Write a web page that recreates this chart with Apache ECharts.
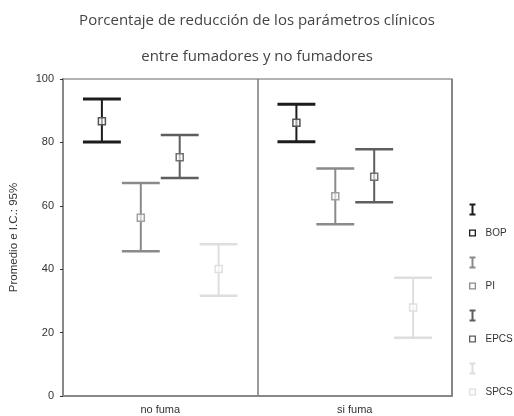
<!DOCTYPE html>
<html><head><meta charset="utf-8">
<script src="https://cdn.jsdelivr.net/npm/echarts@6/dist/echarts.min.js"></script>
<style>html,body{margin:0;padding:0;background:#fff}#c{width:514px;height:416px}</style>
</head><body><div id="c"></div>
<script>
const categories = ['no fuma', 'si fuma'];
const seriesNames = ['BOP', 'PI', 'EPCS', 'SPCS'];
const yTicks = [0, 20, 40, 60, 80, 100];
// mean, lower 95% CI, upper 95% CI per category
const bopMean = [86.7, 86.2];
const bopLow  = [80.1, 80.2];
const bopHigh = [93.7, 92.0];
const piMean  = [56.2, 63.0];
const piLow   = [45.7, 54.2];
const piHigh  = [67.2, 71.8];
const epcsMean = [75.3, 69.2];
const epcsLow  = [68.8, 61.1];
const epcsHigh = [82.3, 77.8];
const spcsMean = [40.1, 27.9];
const spcsLow  = [31.6, 18.4];
const spcsHigh = [47.9, 37.3];

const groups = [
  {mean: bopMean, low: bopLow, high: bopHigh},
  {mean: piMean, low: piLow, high: piHigh},
  {mean: epcsMean, low: epcsLow, high: epcsHigh},
  {mean: spcsMean, low: spcsLow, high: spcsHigh}
];
const colors = ['#1c1c1c', '#8a8a8a', '#5e5e5e', '#dedede'];
const markColors = ['#555555', '#a0a0a0', '#707070', '#e0e0e0'];
const widths = [3, 2.5, 2.5, 2.5];

const chart = echarts.init(document.getElementById('c'), null, {renderer: 'canvas'});

function makeRender(k) {
  return function (params, api) {
    const idx = api.value(0);
    const lo = api.value(1), hi = api.value(2), m = api.value(3);
    const band = api.size([1, 0])[0];
    const slot = band * 0.8 / 4;
    const off = (k - 1.5) * slot;
    const pLo = api.coord([idx, lo]);
    const pHi = api.coord([idx, hi]);
    const pM = api.coord([idx, m]);
    const x = pLo[0] + off;
    const hw = slot / 2 - 0.5;
    const st = {stroke: colors[k], lineWidth: widths[k]};
    return {
      type: 'group',
      children: [
        {type: 'line', shape: {x1: x, y1: pLo[1], x2: x, y2: pHi[1]}, style: {stroke: colors[k], lineWidth: 2}},
        {type: 'line', shape: {x1: x - hw, y1: pHi[1], x2: x + hw, y2: pHi[1]}, style: st},
        {type: 'line', shape: {x1: x - hw, y1: pLo[1], x2: x + hw, y2: pLo[1]}, style: st},
        {type: 'rect', shape: {x: x - 3.5, y: pM[1] - 3.5, width: 7, height: 7},
          style: {stroke: markColors[k], fill: 'rgba(255,255,255,0.6)', lineWidth: 1.5}}
      ]
    };
  };
}

const legendIcon = 'path://M2,0L8,0L8,2L6,2L6,10L8,10L8,12L2,12L2,10L4,10L4,2L2,2Z' +
  'M1.5,26L8.5,26L8.5,33L1.5,33Z M2.8,27.3L2.8,31.7L7.2,31.7L7.2,27.3Z';

chart.setOption({
  animation: false,
  title: {
    text: 'Porcentaje de reducción de los parámetros clínicos\nentre fumadores y no fumadores',
    left: 'center', top: -2,
    textStyle: {fontFamily: 'Open Sans', fontSize: 15, fontWeight: 'normal', color: '#444', lineHeight: 36}
  },
  legend: {
    orient: 'vertical', left: 464, top: 189,
    itemWidth: 10, itemHeight: 33, itemGap: 1,
    icon: legendIcon,
    data: seriesNames,
    formatter: n => '\n' + n,
    textStyle: {fontFamily: 'Liberation Sans', fontSize: 10, color: '#333', lineHeight: 26, padding: [0, 0, 0, 3]}
  },
  grid: {left: 62, right: 62, top: 79, bottom: 20, show: true, borderColor: '#999', borderWidth: 1.5},
  xAxis: {
    type: 'category', data: categories, boundaryGap: true,
    axisLine: {lineStyle: {color: '#888', width: 2}},
    axisTick: {alignWithLabel: true, length: 3, lineStyle: {color: '#333'}},
    axisLabel: {fontFamily: 'Liberation Sans', fontSize: 11, color: '#333', margin: 8},
    splitLine: {show: true, lineStyle: {color: '#777', width: 1.5}}
  },
  yAxis: {
    type: 'value', min: yTicks[0], max: yTicks[yTicks.length - 1], interval: 20,
    name: 'Promedio e I.C.: 95%', nameLocation: 'middle', nameGap: 43,
    nameTextStyle: {fontFamily: 'Liberation Sans', fontSize: 11.5, color: '#333'},
    axisLine: {show: true, lineStyle: {color: '#888', width: 2}},
    axisTick: {show: true, length: 3, lineStyle: {color: '#333'}},
    axisLabel: {fontFamily: 'Liberation Sans', fontSize: 11, color: '#333', margin: 9},
    splitLine: {show: false}
  },
  series: groups.map((g, k) => ({
    type: 'custom', name: seriesNames[k],
    itemStyle: {color: colors[k]},
    renderItem: makeRender(k),
    encode: {x: 0, y: [1, 2, 3]},
    data: categories.map((c, i) => [i, g.low[i], g.high[i], g.mean[i]])
  }))
});
</script></body></html>
